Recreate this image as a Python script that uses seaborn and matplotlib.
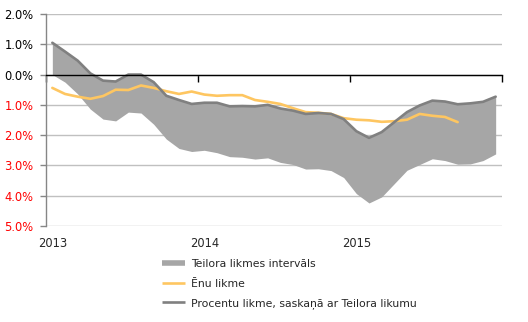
import numpy as np
import pandas as pd
import matplotlib
matplotlib.use("Agg")
import matplotlib.pyplot as plt
import matplotlib.transforms as mtransforms
from matplotlib.lines import Line2D
import seaborn as sns

# ---- data (monthly, Jan 2013 - Dec 2015), in percent ----
year_labels = ["2013", "2014", "2015"]
taylor_rate = [1.05, 0.76, 0.46, 0.04, -0.20, -0.23, 0.00, 0.00, -0.25, -0.70, -0.84, -0.97,
               -0.93, -0.93, -1.05, -1.04, -1.05, -1.00, -1.12, -1.19, -1.30, -1.27, -1.30, -1.47,
               -1.87, -2.09, -1.90, -1.57, -1.24, -1.02, -0.86, -0.89, -0.98, -0.95, -0.90, -0.73]
band_lower = [0.00, -0.25, -0.64, -1.14, -1.47, -1.53, -1.24, -1.27, -1.64, -2.13, -2.44, -2.54,
              -2.50, -2.58, -2.71, -2.73, -2.79, -2.75, -2.90, -2.97, -3.12, -3.11, -3.17, -3.40,
              -3.93, -4.24, -4.04, -3.60, -3.16, -2.97, -2.78, -2.84, -2.96, -2.95, -2.84, -2.62]
shadow_rate = [-0.44, -0.64, -0.73, -0.80, -0.71, -0.50, -0.51, -0.36, -0.44, -0.55, -0.64, -0.56,
               -0.66, -0.70, -0.68, -0.68, -0.84, -0.90, -0.97, -1.11, -1.24, -1.26, -1.30, -1.44,
               -1.49, -1.51, -1.56, -1.54, -1.49, -1.30, -1.36, -1.40, -1.57]
legend_labels = ["Teilora likmes intervāls", "Ēnu likme", "Procentu likme, saskaņā ar Teilora likumu"]

BAND = "#a6a6a6"
GRAY = "#808080"
YELLOW = "#fec661"

sns.set_style("white")
plt.rcParams["font.family"] = ["DejaVu Sans"]

idx = np.arange(len(taylor_rate))
df = pd.DataFrame({"m": idx, "taylor": taylor_rate, "lower": band_lower})
df_sh = pd.DataFrame({"m": np.arange(len(shadow_rate)), "shadow": shadow_rate})

fig = plt.figure(figsize=(5.28, 3.22), dpi=100)
ax = fig.add_axes([46 / 528, 1 - 226 / 322, (502 - 46) / 528, (226 - 14) / 322])

ax.fill_between(df["m"], df["lower"], df["taylor"], color=BAND, lw=0, zorder=1)
sns.lineplot(data=df_sh, x="m", y="shadow", ax=ax, color=YELLOW, lw=1.9, zorder=3)
sns.lineplot(data=df, x="m", y="taylor", ax=ax, color=GRAY, lw=1.9, zorder=4)

ax.set_xlim(-0.5, len(idx) - 0.5)
ax.set_ylim(-5, 2)
ax.set_xlabel("")
ax.set_ylabel("")

# y axis
yt = np.arange(-5, 2.01, 1)
ax.set_yticks(yt)
ax.set_yticklabels([f"{abs(v):.1f}%" for v in yt], fontsize=8.3)
for lab, v in zip(ax.get_yticklabels(), yt):
    lab.set_color("#ff0000" if v < 0 else "black")
ax.tick_params(axis="y", direction="out", length=4, width=1, color="#868686", pad=5, left=True)
ax.grid(axis="y", color="#c0c0c0", lw=1)
ax.grid(axis="x", visible=False)
ax.set_axisbelow(True)

# x axis at zero with year boundary ticks
ax.spines["bottom"].set_position(("data", 0))
ax.spines["bottom"].set_color("black")
ax.spines["bottom"].set_linewidth(1)
ax.spines["bottom"].set_zorder(5)
ax.spines["left"].set_color("#868686")
ax.spines["left"].set_linewidth(1)
ax.spines["top"].set_visible(False)
ax.spines["right"].set_visible(False)
ax.set_xticks(np.arange(-0.5, len(idx), 12))
ax.set_xticklabels([])
ax.tick_params(axis="x", direction="out", length=5, width=1, color="black", bottom=True)

trans = mtransforms.blended_transform_factory(ax.transData, ax.transAxes)
for k, lab in enumerate(year_labels):
    ax.text(k * 12, -0.05, lab, transform=trans, ha="center", va="top", fontsize=8.3)

handles = [Line2D([], [], color=BAND, lw=4, solid_capstyle="butt"),
           Line2D([], [], color=YELLOW, lw=1.9, solid_capstyle="butt"),
           Line2D([], [], color=GRAY, lw=1.9, solid_capstyle="butt")]
fig.legend(handles, legend_labels, loc="upper left", bbox_to_anchor=(162 / 528, 1 - 259 / 322),
           bbox_transform=fig.transFigure, frameon=False, fontsize=7.8, handlelength=2.1,
           handletextpad=0.6, labelspacing=0.88, borderpad=0, borderaxespad=0)

fig.savefig("out.png", dpi=100)
